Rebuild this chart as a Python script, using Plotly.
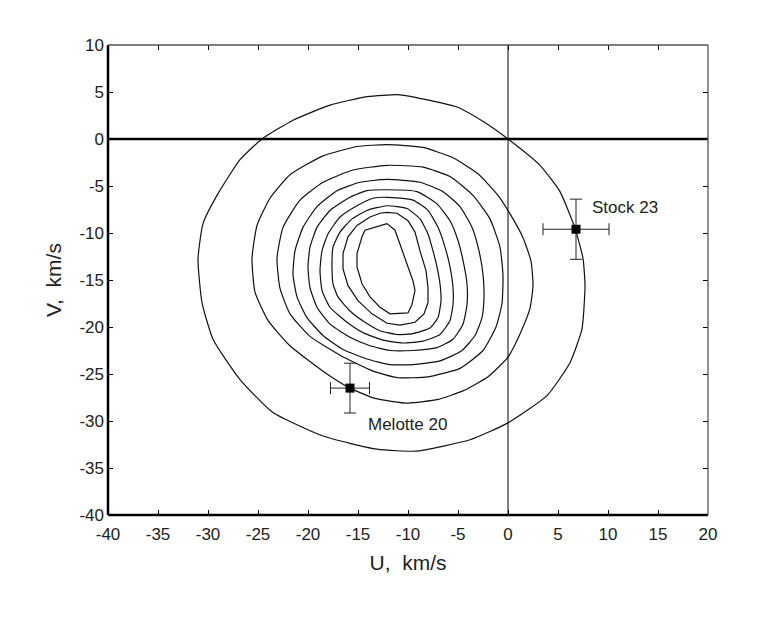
import plotly.graph_objects as go

# ---------------- data ----------------
x_ticks = [-40, -35, -30, -25, -20, -15, -10, -5, 0, 5, 10, 15, 20]
y_ticks = [10, 5, 0, -5, -10, -15, -20, -25, -30, -35, -40]

cluster_names = ["Stock 23", "Melotte 20"]
cluster_u = [6.8, -15.8]
cluster_v = [-9.6, -26.5]
cluster_u_err = [3.3, 1.95]
cluster_v_err = [3.2, 2.65]

# iso-density contours (U, V), outermost first
contour_1 = [(-10.8, 4.7), (-5.1, 3.4), (-2.4, 1.8), (0.0, 0.0), (3.2, -2.8), (5.2, -5.6),
             (6.7, -9.5), (7.5, -12.7), (7.7, -15.6), (7.4, -20.2), (6.2, -23.8), (3.9, -27.3),
             (0.0, -30.2), (-3.8, -32.0), (-9.1, -33.2), (-13.1, -33.0), (-18.5, -31.6),
             (-23.5, -29.1), (-26.8, -25.6), (-29.5, -21.3), (-30.6, -17.4), (-31.0, -12.8),
             (-30.5, -9.0), (-29.1, -6.0), (-26.8, -2.2), (-24.6, 0.0), (-21.5, 2.0),
             (-17.8, 3.6), (-14.1, 4.5)]
contour_2 = [(-12.1, -0.6), (-8.5, -0.9), (-5.5, -2.0), (-3.0, -3.7), (-1.0, -6.0), (0.5, -8.5),
             (1.5, -10.5), (2.3, -13.0), (2.5, -15.6), (2.2, -18.0), (1.3, -20.5), (0.0, -23.2),
             (-2.0, -25.3), (-4.5, -26.8), (-7.0, -27.7), (-10.0, -28.1), (-13.3, -27.6),
             (-15.8, -26.5), (-18.5, -24.7), (-21.8, -22.0), (-24.0, -19.3), (-25.3, -16.3),
             (-25.6, -12.7), (-25.1, -9.2), (-23.8, -6.3), (-21.8, -3.8), (-18.5, -1.8),
             (-15.1, -0.8)]
contour_3 = [(-12.1, -2.8), (-8.5, -3.0), (-5.8, -4.0), (-3.5, -6.0), (-1.8, -8.5), (-0.8, -11.5),
             (-0.5, -14.5), (-0.6, -17.5), (-1.2, -20.0), (-2.5, -22.5), (-4.8, -24.4),
             (-8.0, -25.3), (-11.0, -25.4), (-13.5, -24.7), (-16.8, -23.0), (-19.8, -21.0),
             (-21.8, -18.6), (-22.8, -15.9), (-23.1, -12.7), (-22.5, -9.4), (-20.8, -6.5),
             (-18.5, -4.6), (-15.5, -3.3)]
contour_4 = [(-12.1, -4.3), (-8.8, -4.6), (-6.5, -5.6), (-4.8, -7.2), (-3.6, -9.4), (-2.9, -11.9),
             (-2.5, -14.4), (-2.4, -16.8), (-2.6, -19.0), (-3.3, -20.9), (-4.6, -22.5),
             (-6.8, -23.6), (-9.5, -24.0), (-11.8, -24.0), (-14.1, -23.4), (-16.5, -22.4),
             (-18.5, -20.9), (-20.1, -19.0), (-21.1, -16.8), (-21.5, -14.4), (-21.3, -11.9),
             (-20.5, -9.4), (-19.1, -7.2), (-17.1, -5.5), (-14.8, -4.6)]
contour_5 = [(-12.1, -5.4), (-9.1, -5.6), (-7.1, -6.9), (-5.8, -8.7), (-5.0, -10.8), (-4.5, -12.9),
             (-4.1, -15.4), (-4.1, -17.6), (-4.5, -19.7), (-5.5, -21.3), (-7.1, -22.2),
             (-9.5, -22.5), (-11.8, -22.5), (-13.8, -22.0), (-15.8, -21.1), (-17.8, -19.7),
             (-19.1, -17.9), (-19.8, -15.8), (-20.0, -13.6), (-19.8, -11.5), (-19.1, -9.4),
             (-17.8, -7.6), (-15.8, -6.2), (-14.1, -5.5)]
contour_6 = [(-12.1, -6.2), (-9.5, -6.5), (-8.0, -7.6), (-7.0, -9.4), (-6.3, -11.5), (-5.8, -13.6),
             (-5.5, -15.8), (-5.5, -17.6), (-5.8, -19.3), (-6.8, -20.8), (-8.5, -21.5),
             (-10.5, -21.7), (-12.5, -21.4), (-14.5, -20.6), (-16.1, -19.5), (-17.8, -17.9),
             (-18.6, -16.1), (-18.8, -14.0), (-18.6, -11.9), (-18.0, -10.1), (-16.8, -8.3),
             (-15.1, -7.1), (-13.5, -6.3)]
contour_7 = [(-12.1, -7.1), (-10.1, -7.4), (-8.8, -8.5), (-8.0, -10.1), (-7.5, -11.9), (-7.1, -13.6),
             (-6.8, -15.4), (-6.7, -17.2), (-7.0, -19.0), (-7.8, -20.1), (-9.5, -20.7),
             (-11.1, -20.8), (-12.8, -20.4), (-14.3, -19.5), (-15.8, -18.3), (-17.0, -16.8),
             (-17.5, -15.4), (-17.6, -13.6), (-17.5, -11.5), (-16.8, -9.9), (-15.6, -8.5),
             (-14.1, -7.6)]
contour_8 = [(-12.1, -7.8), (-11.1, -7.9), (-10.0, -8.7), (-9.3, -9.9), (-8.8, -11.9), (-8.2, -14.0),
             (-8.0, -15.8), (-8.0, -17.4), (-8.4, -18.6), (-9.3, -19.5), (-10.8, -19.8),
             (-12.1, -19.6), (-13.6, -18.6), (-15.0, -17.2), (-16.0, -15.6), (-16.5, -13.8),
             (-16.5, -12.2), (-16.0, -10.4), (-15.1, -9.2), (-13.8, -8.3), (-12.8, -7.9)]
contour_9 = [(-12.1, -9.0), (-11.3, -9.7), (-10.8, -11.2), (-10.1, -13.3), (-9.5, -15.1),
             (-9.3, -16.1), (-9.6, -17.6), (-10.0, -18.5), (-11.8, -18.6), (-12.8, -17.9),
             (-13.8, -16.8), (-14.6, -15.4), (-15.1, -13.6), (-15.1, -12.2), (-14.6, -10.4),
             (-14.3, -9.7)]

contours = [contour_1, contour_2, contour_3, contour_4, contour_5,
            contour_6, contour_7, contour_8, contour_9]

# ---------------- figure ----------------
FONT = "Liberation Sans, Arial, sans-serif"
TXT = "#222222"
fig = go.Figure()

for i, c in enumerate(contours):
    us = [p[0] for p in c] + [c[0][0]]
    vs = [p[1] for p in c] + [c[0][1]]
    fig.add_trace(go.Scatter(
        x=us, y=vs, mode="lines",
        line=dict(color="#111111", width=1.2,
                  shape="spline" if i < 7 else "linear", smoothing=0.5),
        hoverinfo="skip", showlegend=False))

fig.add_trace(go.Scatter(
    x=cluster_u, y=cluster_v, mode="markers",
    marker=dict(symbol="square", size=9, color="black"),
    error_x=dict(type="data", array=cluster_u_err, color="#222222", thickness=1, width=6),
    error_y=dict(type="data", array=cluster_v_err, color="#222222", thickness=1, width=6),
    text=cluster_names, showlegend=False))

# zero lines
fig.add_shape(type="line", xref="x", yref="y", x0=-40, x1=20, y0=0, y1=0,
              line=dict(color="black", width=2.5))
fig.add_shape(type="line", xref="x", yref="y", x0=0, x1=0, y0=-40, y1=10,
              line=dict(color="black", width=1))
# frame
fig.add_shape(type="line", xref="x domain", yref="y domain", x0=0, x1=0, y0=0, y1=1,
              line=dict(color="black", width=2.5))
fig.add_shape(type="line", xref="x domain", yref="y domain", x0=0, x1=1, y0=0, y1=0,
              line=dict(color="black", width=2.5))
fig.add_shape(type="line", xref="x domain", yref="y domain", x0=0, x1=1, y0=1, y1=1,
              line=dict(color="#555555", width=1.3))
fig.add_shape(type="line", xref="x domain", yref="y domain", x0=1, x1=1, y0=0, y1=1,
              line=dict(color="#555555", width=1.3))

fig.add_annotation(x=cluster_u[0] + 1.4, y=cluster_v[0] + 2.3, text=cluster_names[0],
                   showarrow=False, xanchor="left", yanchor="middle",
                   font=dict(family=FONT, size=17, color=TXT))
fig.add_annotation(x=-10.1, y=-30.4, text=cluster_names[1],
                   showarrow=False, xanchor="center", yanchor="middle",
                   font=dict(family=FONT, size=17, color=TXT))

axis_common = dict(showgrid=False, zeroline=False, showline=False,
                   ticks="inside", ticklen=5, tickwidth=1.3, tickcolor="black",
                   mirror="ticks",
                   tickfont=dict(family=FONT, size=17, color=TXT))
fig.update_xaxes(range=[-40, 20], tickvals=x_ticks, ticktext=[str(t) for t in x_ticks],
                 ticklabelstandoff=7,
                 title=dict(text="U,  km/s", font=dict(family=FONT, size=21, color=TXT),
                            standoff=12),
                 **axis_common)
fig.update_yaxes(range=[-40, 10], tickvals=y_ticks, ticktext=[str(t) for t in y_ticks],
                 ticklabelstandoff=3,
                 title=dict(text="V,  km/s", font=dict(family=FONT, size=21, color=TXT),
                            standoff=12),
                 **axis_common)

fig.update_layout(width=755, height=610,
                  margin=dict(l=100, r=55, t=37, b=103, autoexpand=False),
                  plot_bgcolor="white", paper_bgcolor="white")

fig.write_html("out.html")
